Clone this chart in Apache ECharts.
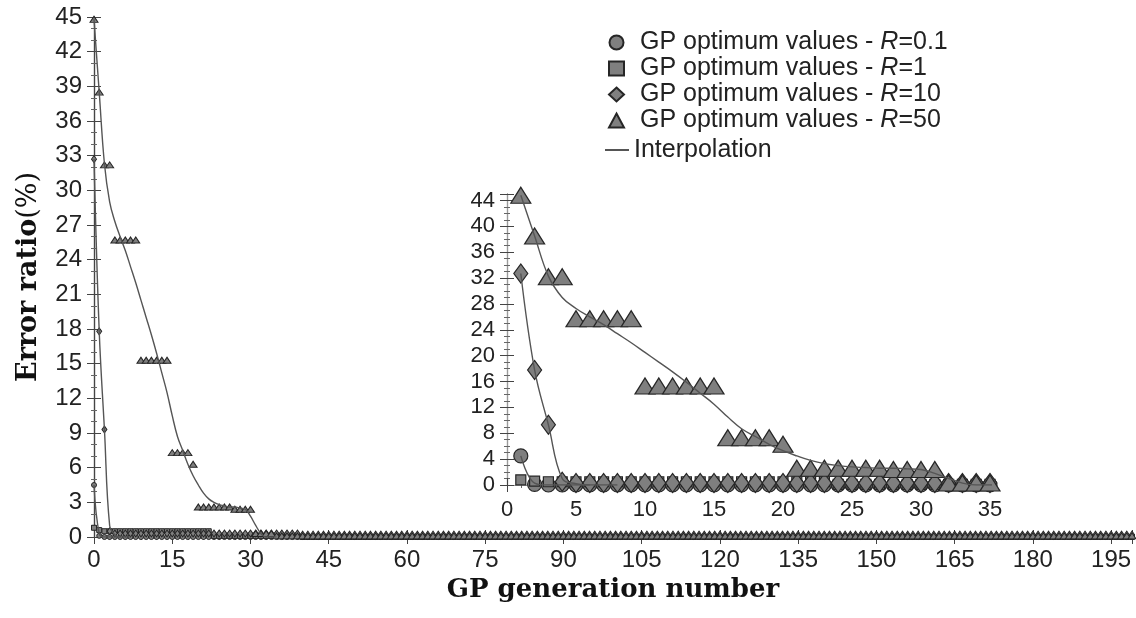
<!DOCTYPE html>
<html>
<head>
<meta charset="utf-8">
<script src="https://cdn.jsdelivr.net/npm/echarts@6/dist/echarts.min.js"></script>
<style>
  html, body { margin: 0; padding: 0; background: #fff; }
  #chart { width: 1136px; height: 618px; }
</style>
</head>
<body>
<div id="chart"></div>
<script>
// error ratio (%) per GP generation, 200 generations
const r01 = [
  4.5,0.1,0,0,0,0,0,0,0,0,0,0,0,0,0,0,0,0,0,0,
  0,0,0,0,0,0,0,0,0,0,0,0,0,0,0,0,0,0,0,0,
  0,0,0,0,0,0,0,0,0,0,0,0,0,0,0,0,0,0,0,0,
  0,0,0,0,0,0,0,0,0,0,0,0,0,0,0,0,0,0,0,0,
  0,0,0,0,0,0,0,0,0,0,0,0,0,0,0,0,0,0,0,0,
  0,0,0,0,0,0,0,0,0,0,0,0,0,0,0,0,0,0,0,0,
  0,0,0,0,0,0,0,0,0,0,0,0,0,0,0,0,0,0,0,0,
  0,0,0,0,0,0,0,0,0,0,0,0,0,0,0,0,0,0,0,0,
  0,0,0,0,0,0,0,0,0,0,0,0,0,0,0,0,0,0,0,0,
  0,0,0,0,0,0,0,0,0,0,0,0,0,0,0,0,0,0,0,0
];
const r1 = [
  0.8,0.6,0.5,0.5,0.5,0.5,0.5,0.5,0.5,0.5,0.5,0.5,0.5,0.5,0.5,0.5,0.5,0.5,0.5,0.5,
  0.5,0.5,0.5,0.1,0.1,0.1,0.1,0.1,0.1,0.1,0.1,0.1,0.1,0.1,0.1,0.1,0.1,0.1,0.1,0.1,
  0,0,0,0,0,0,0,0,0,0,0,0,0,0,0,0,0,0,0,0,
  0,0,0,0,0,0,0,0,0,0,0,0,0,0,0,0,0,0,0,0,
  0,0,0,0,0,0,0,0,0,0,0,0,0,0,0,0,0,0,0,0,
  0,0,0,0,0,0,0,0,0,0,0,0,0,0,0,0,0,0,0,0,
  0,0,0,0,0,0,0,0,0,0,0,0,0,0,0,0,0,0,0,0,
  0,0,0,0,0,0,0,0,0,0,0,0,0,0,0,0,0,0,0,0,
  0,0,0,0,0,0,0,0,0,0,0,0,0,0,0,0,0,0,0,0,
  0,0,0,0,0,0,0,0,0,0,0,0,0,0,0,0,0,0,0,0
];
const r10 = [
  32.7,17.8,9.3,0.5,0.3,0.3,0.3,0.3,0.3,0.3,0.3,0.3,0.3,0.3,0.3,0.3,0.3,0.3,0.3,0.3,
  0.3,0.3,0.3,0.3,0.3,0.3,0.3,0.3,0.3,0.3,0.3,0.3,0.3,0.3,0.3,0.3,0.3,0.3,0.3,0.3,
  0.2,0.2,0.2,0.2,0.2,0.2,0.2,0.2,0.2,0.2,0.2,0.2,0.2,0.2,0.2,0.2,0.2,0.2,0.2,0.2,
  0.2,0.2,0.2,0.2,0.2,0.2,0.2,0.2,0.2,0.2,0.2,0.2,0.2,0.2,0.2,0.2,0.2,0.2,0.2,0.2,
  0.2,0.2,0.2,0.2,0.2,0.2,0.2,0.2,0.2,0.2,0.2,0.2,0.2,0.2,0.2,0.2,0.2,0.2,0.2,0.2,
  0.2,0.2,0.2,0.2,0.2,0.2,0.2,0.2,0.2,0.2,0.2,0.2,0.2,0.2,0.2,0.2,0.2,0.2,0.2,0.2,
  0.2,0.2,0.2,0.2,0.2,0.2,0.2,0.2,0.2,0.2,0.2,0.2,0.2,0.2,0.2,0.2,0.2,0.2,0.2,0.2,
  0.2,0.2,0.2,0.2,0.2,0.2,0.2,0.2,0.2,0.2,0.2,0.2,0.2,0.2,0.2,0.2,0.2,0.2,0.2,0.2,
  0.2,0.2,0.2,0.2,0.2,0.2,0.2,0.2,0.2,0.2,0.2,0.2,0.2,0.2,0.2,0.2,0.2,0.2,0.2,0.2,
  0.2,0.2,0.2,0.2,0.2,0.2,0.2,0.2,0.2,0.2,0.2,0.2,0.2,0.2,0.2,0.2,0.2,0.2,0.2,0.2
];
const r50 = [
  44.8,38.5,32.2,32.2,25.7,25.7,25.7,25.7,25.7,15.3,15.3,15.3,15.3,15.3,15.3,7.3,7.3,7.3,7.3,6.3,
  2.6,2.6,2.6,2.6,2.6,2.6,2.6,2.4,2.4,2.4,2.4,0.3,0.3,0.3,0.3,0.1,0.1,0.1,0.1,0.1,
  0.1,0.1,0.1,0.1,0.1,0.1,0.1,0.1,0.1,0.1,0.1,0.1,0.1,0.1,0.1,0.1,0.1,0.1,0.1,0.1,
  0.1,0.1,0.1,0.1,0.1,0.1,0.1,0.1,0.1,0.1,0.1,0.1,0.1,0.1,0.1,0.1,0.1,0.1,0.1,0.1,
  0.1,0.1,0.1,0.1,0.1,0.1,0.1,0.1,0.1,0.1,0.1,0.1,0.1,0.1,0.1,0.1,0.1,0.1,0.1,0.1,
  0.1,0.1,0.1,0.1,0.1,0.1,0.1,0.1,0.1,0.1,0.1,0.1,0.1,0.1,0.1,0.1,0.1,0.1,0.1,0.1,
  0.1,0.1,0.1,0.1,0.1,0.1,0.1,0.1,0.1,0.1,0.1,0.1,0.1,0.1,0.1,0.1,0.1,0.1,0.1,0.1,
  0.1,0.1,0.1,0.1,0.1,0.1,0.1,0.1,0.1,0.1,0.1,0.1,0.1,0.1,0.1,0.1,0.1,0.1,0.1,0.1,
  0.1,0.1,0.1,0.1,0.1,0.1,0.1,0.1,0.1,0.1,0.1,0.1,0.1,0.1,0.1,0.1,0.1,0.1,0.1,0.1,
  0.1,0.1,0.1,0.1,0.1,0.1,0.1,0.1,0.1,0.1,0.1,0.1,0.1,0.1,0.1,0.1,0.1,0.1,0.1,0.1
];

// interpolation curves (first generations, then they stay on 0)
const fit01 = [4.5, 0.3, 0, 0, 0, 0];
const fit10 = [32.7, 17.8, 9.3, 1.0, 0.2, 0, 0, 0];
const fit50 = [44.8,38.5,32.3,29.0,27.3,26.0,24.8,23.4,22.0,20.5,19.0,17.5,15.9,14.2,12.5,10.5,8.7,7.5,6.3,5.3,
  4.5,3.8,3.3,3.0,2.8,2.7,2.6,2.6,2.5,2.4,1.8,1.0,0.3,0,0,0];

const names = ['R=0.1', 'R=1', 'R=10', 'R=50'];
const values = [r01, r1, r10, r50];
const fits = [fit01, fit10, fit50];
const insetLen = 35;

const fill = '#7f7f7f', edge = '#262626', lineCol = '#555';
const shapes = ['circle', 'rect', 'diamond', 'triangle'];
const mainSize = [5, 5, [5, 7], [8, 6]];
const insetSize = [14, 10, [14, 19], [20, 16]];
const font = 'Liberation Sans, Arial, sans-serif';

let myChart = echarts.init(document.getElementById('chart'));

let series = [];
// main plot, generation index from 0
values.forEach((v, k) => {
  series.push({
    name: names[k], type: 'scatter', xAxisIndex: 0, yAxisIndex: 0, z: 3,
    symbol: shapes[k], symbolSize: mainSize[k],
    itemStyle: { color: fill, borderColor: edge, borderWidth: 1, opacity: 1 },
    data: v.map((y, i) => [i, y])
  });
});
fits.forEach(f => {
  series.push({
    name: 'Interpolation', type: 'line', xAxisIndex: 0, yAxisIndex: 0, z: 4,
    smooth: 0.4, showSymbol: false, symbol: 'none',
    lineStyle: { color: lineCol, width: 1.4 }, itemStyle: { color: lineCol },
    data: f.map((y, i) => [i, y])
  });
});
// inset, generation from 1
values.forEach((v, k) => {
  series.push({
    name: names[k], type: 'scatter', xAxisIndex: 2, yAxisIndex: 2, z: 12,
    symbol: shapes[k], symbolSize: insetSize[k],
    itemStyle: { color: fill, borderColor: edge, borderWidth: 1.2, opacity: 1 },
    data: v.slice(0, insetLen).map((y, i) => [i + 1, y])
  });
});
fits.forEach(f => {
  series.push({
    name: 'Interpolation', type: 'line', xAxisIndex: 2, yAxisIndex: 2, z: 13,
    smooth: 0.4, showSymbol: false, symbol: 'none',
    lineStyle: { color: lineCol, width: 1.4 }, itemStyle: { color: lineCol },
    data: f.map((y, i) => [i + 1, y])
  });
});

const axLine = { show: true, lineStyle: { color: '#444', width: 1.2 } };
function tickAxis(extra) {
  return Object.assign({
    type: 'value',
    axisLine: axLine,
    axisTick: { show: true, inside: true, length: 7, lineStyle: { color: '#444' } },
    minorTick: { show: true, splitNumber: 5, length: 3, lineStyle: { color: '#666' } },
    splitLine: { show: false },
    axisLabel: { show: false }
  }, extra);
}

option = {
  animation: false,
  backgroundColor: '#fff',
  grid: [
    { left: 94, right: 4, top: 17, bottom: 81 },
    { left: 507, right: 146, top: 194, bottom: 133, show: true, backgroundColor: '#fff', borderWidth: 0, z: 10 }
  ],
  legend: [{
    data: names,
    orient: 'vertical', left: 608, top: 30, padding: 0,
    itemWidth: 15, itemHeight: 14, itemGap: 1,
    formatter: n => '{s|}{a|GP optimum values - }{i|R}{a|' + n.slice(1) + '}',
    textStyle: {
      rich: {
        s: { width: 11, lineHeight: 26 },
        a: { fontSize: 25, fontFamily: font, color: '#222', lineHeight: 26 },
        i: { fontSize: 25, fontFamily: font, color: '#222', fontStyle: 'italic', lineHeight: 26 }
      }
    }
  }, {
    data: [{ name: 'Interpolation', icon: 'rect' }],
    left: 605, top: 137, padding: 0,
    itemWidth: 24, itemHeight: 2,
    textStyle: { fontSize: 25, fontFamily: font, color: '#222', lineHeight: 26 }
  }],
  xAxis: [
    tickAxis({
      gridIndex: 0, min: 0, max: 199, interval: 15, position: 'bottom',
      name: 'GP generation number', nameLocation: 'middle', nameGap: 27,
      nameTextStyle: { fontFamily: 'DejaVu Serif', fontWeight: 'bold', fontSize: 26, color: '#111' },
      axisLabel: { show: true, showMaxLabel: false, fontSize: 24, fontFamily: font, color: '#222', margin: 11 }
    }),
    tickAxis({ gridIndex: 0, min: 0, max: 199, interval: 15, position: 'top' }),
    tickAxis({
      gridIndex: 1, min: 0, max: 35, interval: 5, position: 'bottom', z: 11,
      axisLabel: { show: true, fontSize: 22, fontFamily: font, color: '#222', margin: 14 }
    }),
    tickAxis({ gridIndex: 1, min: 0, max: 35, interval: 5, position: 'top', z: 11,
      axisLine: { show: true, lineStyle: { color: '#999', width: 1 } } })
  ],
  yAxis: [
    tickAxis({
      gridIndex: 0, min: 0, max: 45, interval: 3, position: 'left',
      minorTick: { show: true, splitNumber: 3, length: 3, lineStyle: { color: '#666' } },
      name: '{b|Error ratio}{n|(%)}', nameLocation: 'middle', nameGap: 52, nameRotate: 90,
      nameTextStyle: {
        rich: {
          b: { fontFamily: 'DejaVu Serif', fontWeight: 'bold', fontSize: 27, color: '#111' },
          n: { fontFamily: 'DejaVu Serif', fontSize: 27, color: '#111' }
        }
      },
      axisLabel: { show: true, fontSize: 24, fontFamily: font, color: '#222', margin: 12 }
    }),
    tickAxis({ gridIndex: 0, min: 0, max: 45, interval: 3, position: 'right',
      minorTick: { show: true, splitNumber: 3, length: 3, lineStyle: { color: '#666' } } }),
    tickAxis({
      gridIndex: 1, min: 0, max: 45, interval: 4, position: 'left', z: 11,
      minorTick: { show: true, splitNumber: 4, length: 3, lineStyle: { color: '#666' } },
      axisLabel: { show: true, showMaxLabel: false, fontSize: 22, fontFamily: font, color: '#222', margin: 12 }
    }),
    tickAxis({ gridIndex: 1, min: 0, max: 45, interval: 4, position: 'right', z: 11,
      axisLine: { show: true, lineStyle: { color: '#999', width: 1 } },
      minorTick: { show: true, splitNumber: 4, length: 3, lineStyle: { color: '#666' } } })
  ],
  series: series
};
myChart.setOption(option);
</script>
</body>
</html>
